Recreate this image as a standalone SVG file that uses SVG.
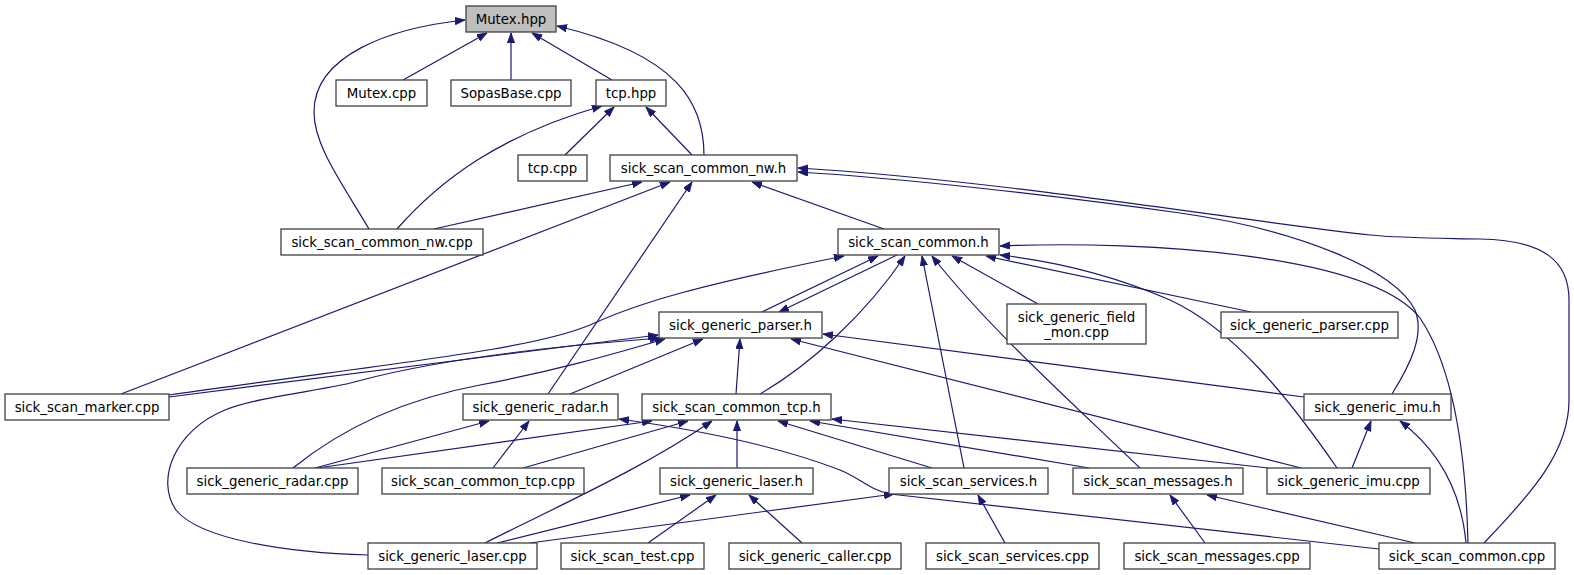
<svg xmlns="http://www.w3.org/2000/svg" width="1574" height="575" viewBox="0 0 1574 575">
<style>
.n rect{fill:#ffffff;stroke:#404040;stroke-width:1.3}
.n.root rect{fill:#bfbfbf}
.n text{font-family:"DejaVu Sans","Liberation Sans",sans-serif;font-size:13.33px;fill:#000;text-anchor:middle}
#edges path{fill:none;stroke:#191970;stroke-width:1.2;marker-end:url(#ah)}
</style>
<defs>
<marker id="ah" markerUnits="userSpaceOnUse" markerWidth="11" markerHeight="8" refX="10" refY="3.7" orient="auto" viewBox="0 0 11 8">
<path d="M0,0 L10,3.7 L0,7.4 z" fill="#191970" stroke="#191970" stroke-width="0.8"/>
</marker>
</defs>
<rect width="1574" height="575" fill="#ffffff"/>
<g id="edges">
<path d="M403,80 L487,33"/>
<path d="M511,80 L511,33"/>
<path d="M612,80 L532,33"/>
<path d="M704,155 C704,105 680,55 557,26"/>
<path d="M369,229 C340,180 314,145 314,112 C314,55 390,28 465,20"/>
<path d="M565,155 L614,107"/>
<path d="M692,155 L646,107"/>
<path d="M397,229 C440,180 500,135 602,106"/>
<path d="M434,229 L642,182"/>
<path d="M121,394 L670,182"/>
<path d="M548,394 L692,182"/>
<path d="M884,229 L752,182"/>
<path d="M1392,394 C1410,365 1425,335 1415,310 C1395,270 1300,230 1180,213 C1050,195 900,178 798,172"/>
<path d="M1484,543 C1535,490 1569,450 1569,400 L1569,300 C1569,262 1545,240 1480,239 C1430,238 1400,238 1370,235 C1250,222 1000,180 798,168"/>
<path d="M762,312 L878,256"/>
<path d="M897,255 L779,312"/>
<path d="M169,395 C400,362 530,350 590,325 C640,302 700,285 844,256"/>
<path d="M169,397 L658,335"/>
<path d="M368,555 C290,553 200,540 176,510 C155,480 175,430 225,410 C260,396 330,390 362,380 C430,362 530,348 660,338"/>
<path d="M293,468 C340,430 400,400 480,385 C560,370 620,352 665,339"/>
<path d="M570,394 L703,339"/>
<path d="M736,394 L740,339"/>
<path d="M760,394 C810,365 865,315 905,256"/>
<path d="M1304,397 L823,334"/>
<path d="M1301,468 L791,339"/>
<path d="M964,468 L922,256"/>
<path d="M1140,468 C1080,410 990,330 932,256"/>
<path d="M1038,304 L952,256"/>
<path d="M1251,312 L986,256"/>
<path d="M1337,468 C1290,400 1235,330 1170,300 C1120,278 1060,262 1000,255"/>
<path d="M1468,543 C1466,460 1455,370 1420,318 C1370,255 1150,240 1000,246"/>
<path d="M317,468 L652,421"/>
<path d="M523,468 L688,421"/>
<path d="M485,543 C560,505 640,470 712,421"/>
<path d="M737,468 L737,421"/>
<path d="M932,468 L778,421"/>
<path d="M1089,468 L810,421"/>
<path d="M1268,468 L832,419"/>
<path d="M1379,549 L890,494 C870,490 860,478 840,470 C780,447 700,430 619,419"/>
<path d="M315,468 L489,421"/>
<path d="M493,468 L529,421"/>
<path d="M497,543 L690,495"/>
<path d="M648,543 L716,495"/>
<path d="M802,543 L749,495"/>
<path d="M530,543 L894,494"/>
<path d="M1005,543 L978,495"/>
<path d="M1205,543 L1170,495"/>
<path d="M1415,543 L1207,495"/>
<path d="M1352,468 L1371,421"/>
<path d="M1466,543 C1462,500 1445,455 1400,421"/>
</g>
<g id="n0" class="n root"><rect x="466" y="6" width="90" height="26"/><text x="511" y="23.5">Mutex.hpp</text></g>
<g id="n1" class="n"><rect x="336" y="80" width="91" height="26"/><text x="381.5" y="97.5">Mutex.cpp</text></g>
<g id="n2" class="n"><rect x="451" y="80" width="120" height="26"/><text x="511" y="97.5">SopasBase.cpp</text></g>
<g id="n3" class="n"><rect x="596" y="80" width="70" height="26"/><text x="631" y="97.5">tcp.hpp</text></g>
<g id="n4" class="n"><rect x="518" y="155" width="69" height="26"/><text x="552.5" y="172.5">tcp.cpp</text></g>
<g id="n5" class="n"><rect x="610" y="155" width="187" height="26"/><text x="703.5" y="172.5">sick_scan_common_nw.h</text></g>
<g id="n6" class="n"><rect x="281" y="229" width="202" height="26"/><text x="382" y="246.5">sick_scan_common_nw.cpp</text></g>
<g id="n7" class="n"><rect x="838" y="229" width="161" height="26"/><text x="918.5" y="246.5">sick_scan_common.h</text></g>
<g id="n8" class="n"><rect x="659" y="312" width="163" height="26"/><text x="740.5" y="329.5">sick_generic_parser.h</text></g>
<g id="n9" class="n"><rect x="1007" y="304" width="139" height="40"/><text x="1076.5" y="321.5">sick_generic_field</text><text x="1076.5" y="336.5">_mon.cpp</text></g>
<g id="n10" class="n"><rect x="1221" y="312" width="177" height="26"/><text x="1309.5" y="329.5">sick_generic_parser.cpp</text></g>
<g id="n11" class="n"><rect x="5" y="394" width="164" height="26"/><text x="87" y="411.5">sick_scan_marker.cpp</text></g>
<g id="n12" class="n"><rect x="463" y="394" width="155" height="26"/><text x="540.5" y="411.5">sick_generic_radar.h</text></g>
<g id="n13" class="n"><rect x="642" y="394" width="189" height="26"/><text x="736.5" y="411.5">sick_scan_common_tcp.h</text></g>
<g id="n14" class="n"><rect x="1304" y="394" width="147" height="26"/><text x="1377.5" y="411.5">sick_generic_imu.h</text></g>
<g id="n15" class="n"><rect x="187" y="468" width="171" height="26"/><text x="272.5" y="485.5">sick_generic_radar.cpp</text></g>
<g id="n16" class="n"><rect x="382" y="468" width="202" height="26"/><text x="483" y="485.5">sick_scan_common_tcp.cpp</text></g>
<g id="n17" class="n"><rect x="660" y="468" width="153" height="26"/><text x="736.5" y="485.5">sick_generic_laser.h</text></g>
<g id="n18" class="n"><rect x="889" y="468" width="159" height="26"/><text x="968.5" y="485.5">sick_scan_services.h</text></g>
<g id="n19" class="n"><rect x="1073" y="468" width="170" height="26"/><text x="1158" y="485.5">sick_scan_messages.h</text></g>
<g id="n20" class="n"><rect x="1267" y="468" width="163" height="26"/><text x="1348.5" y="485.5">sick_generic_imu.cpp</text></g>
<g id="n21" class="n"><rect x="368" y="543" width="169" height="26"/><text x="452.5" y="560.5">sick_generic_laser.cpp</text></g>
<g id="n22" class="n"><rect x="561" y="543" width="143" height="26"/><text x="632.5" y="560.5">sick_scan_test.cpp</text></g>
<g id="n23" class="n"><rect x="729" y="543" width="172" height="26"/><text x="815" y="560.5">sick_generic_caller.cpp</text></g>
<g id="n24" class="n"><rect x="926" y="543" width="173" height="26"/><text x="1012.5" y="560.5">sick_scan_services.cpp</text></g>
<g id="n25" class="n"><rect x="1124" y="543" width="186" height="26"/><text x="1217" y="560.5">sick_scan_messages.cpp</text></g>
<g id="n26" class="n"><rect x="1379" y="543" width="176" height="26"/><text x="1467" y="560.5">sick_scan_common.cpp</text></g>
</svg>
